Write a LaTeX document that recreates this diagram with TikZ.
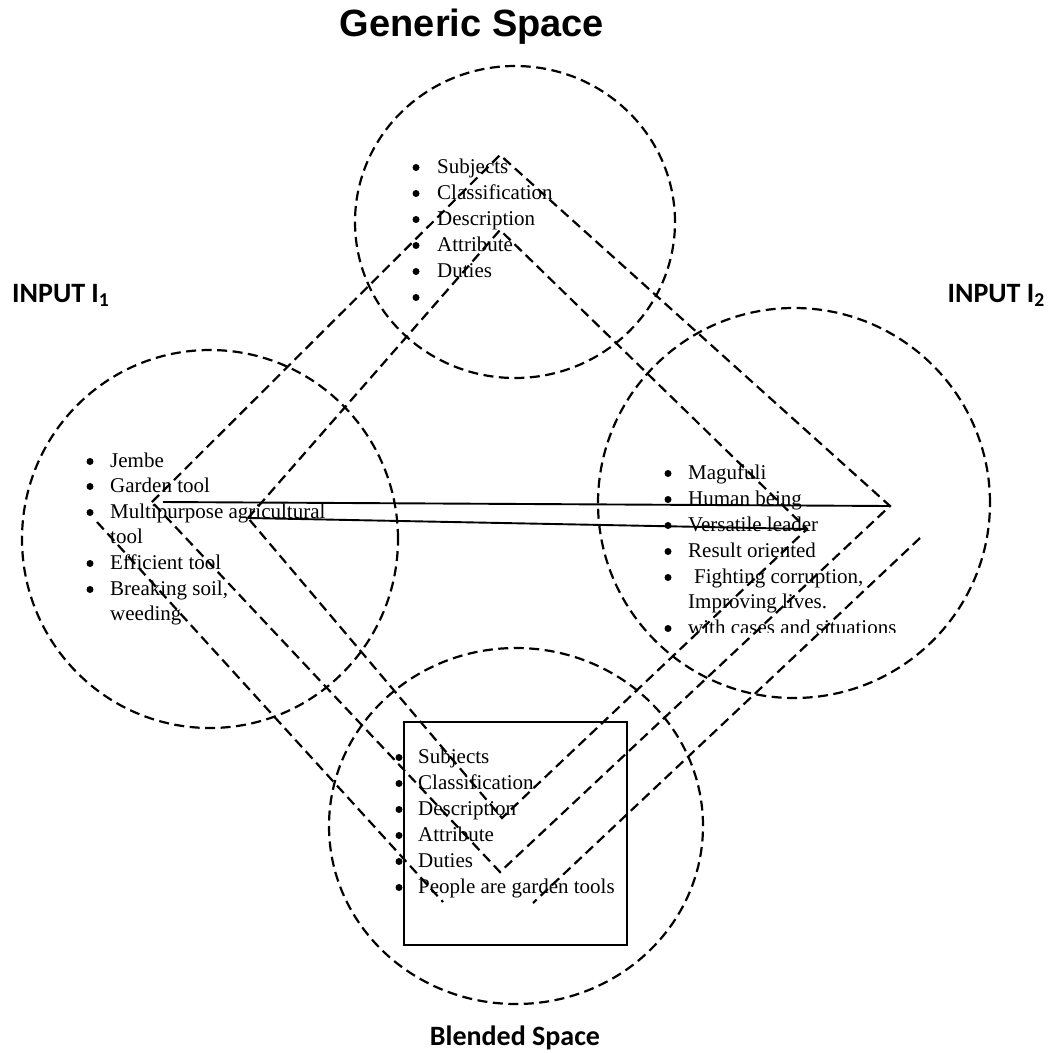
\documentclass[tikz,border=0pt]{standalone}
\usepackage{fontspec}
\setmainfont{Liberation Serif}
\newfontfamily\arialfont{Liberation Sans}
\newfontfamily\calfont{Carlito}
\usetikzlibrary{shapes.geometric}
% #1 name, #2 bullet x, #3 baseline y, #4 text x, #5 text
\newcommand{\bitem}[5]{\fill (#2,{#3-5.5}) circle (3.5pt); \node[itemtext] (#1) at (#4,#3) {#5};}
\begin{document}
\begin{tikzpicture}[x=1pt,y=-1pt,
  dsh/.style={dash pattern=on 10pt off 5.5pt, line width=2.2pt},
  space/.style={draw, dsh, ellipse, inner sep=0pt},
  solidline/.style={line width=1.9pt},
  itemtext/.style={anchor=base west, inner sep=0pt, font=\fontsize{21}{25}\selectfont},
  heading/.style={inner sep=0pt, font=\calfont\bfseries\fontsize{28}{28}\selectfont}]
\useasboundingbox (0,0) rectangle (1048,1053);

% spaces (circles)
\node (genC) [space, minimum width=320pt, minimum height=312pt] at (515,222) {};
\node (in1C) [space, minimum width=376pt, minimum height=378pt] at (210,539) {};
\node (in2C) [space, minimum width=392pt, minimum height=390pt] at (794,503) {};
\node (blC)  [space, minimum width=374pt, minimum height=356pt] at (516,826) {};

% diamond vertices
\coordinate (oL) at (152,502);
\coordinate (oT) at (500,155);
\coordinate (oR) at (890,506);
\coordinate (oB) at (500,872);
\coordinate (iL) at (248,518);
\coordinate (iT) at (500,230);
\coordinate (iR) at (807,529);
\coordinate (iB) at (502,818);
\coordinate (cA) at (97,522);
\coordinate (cB) at (443,902);
\coordinate (dA) at (920,538);
\coordinate (dB) at (533,903);
\coordinate (sA) at (163,502);
\coordinate (sB) at (248,518);

\draw[dsh] (oL) -- (oT) -- (oR) -- (oB) -- cycle;
\draw[dsh] (iL) -- (iT) -- (iR) -- (iB) -- cycle;
\draw[dsh] (cA) -- (cB);
\draw[dsh] (dA) -- (dB);

\draw[solidline] (sA) -- (oR);
\draw[solidline] (sB) -- (iR);

% blended box
\node (blBox) [draw, line width=1.5pt, minimum width=223pt, minimum height=223pt, inner sep=0pt] at (515.5,833.5) {};

% titles
\node (title) [anchor=base, inner sep=0pt, font=\arialfont\bfseries\fontsize{38}{38}\selectfont] at (472,36) {Generic Space};
\node (in1T) [heading, anchor=base west] at (12,302) {INPUT I\textsubscript{1}};
\node (in2T) [heading, anchor=base east] at (1045,302) {INPUT I\textsubscript{2}};
\node (blT) [heading, anchor=base] at (515,1045) {Blended Space};

% generic space list
\bitem{g1}{416}{173}{437}{Subjects}
\bitem{g2}{416}{199}{437}{Classification}
\bitem{g3}{416}{225}{437}{Description}
\bitem{g4}{416}{251}{437}{Attribute}
\bitem{g5}{416}{277}{437}{Duties}
\bitem{g6}{416}{303}{437}{}

% input 1 list
\bitem{a1}{90}{467}{110}{Jembe}
\bitem{a2}{90}{492}{110}{Garden tool}
\bitem{a3}{90}{518}{110}{Multipurpose agricultural}
\node[itemtext] (a3b) at (110,543) {tool};
\bitem{a4}{90}{569}{110}{Efficient tool}
\bitem{a5}{90}{595}{110}{Breaking soil,}
\node[itemtext] (a5b) at (110,620) {weeding};

% input 2 list
\bitem{b1}{668}{479}{688}{Magufuli}
\bitem{b2}{668}{505}{688}{Human being}
\bitem{b3}{668}{531}{688}{Versatile leader}
\bitem{b4}{668}{557}{688}{Result oriented}
\bitem{b5}{668}{583}{694}{Fighting corruption,}
\node[itemtext] (b5b) at (688,608) {Improving lives.};
\begin{scope}
\clip (0,0) rectangle (1048,632);
\bitem{b6}{668}{634}{688}{with cases and situations}
\end{scope}

% blended list
\bitem{c1}{399}{763}{418}{Subjects}
\bitem{c2}{399}{789}{418}{Classification}
\bitem{c3}{399}{815}{418}{Description}
\bitem{c4}{399}{841}{418}{Attribute}
\bitem{c5}{399}{867}{418}{Duties}
\bitem{c6}{399}{893}{418}{People are garden tools}
\end{tikzpicture}
\end{document}
